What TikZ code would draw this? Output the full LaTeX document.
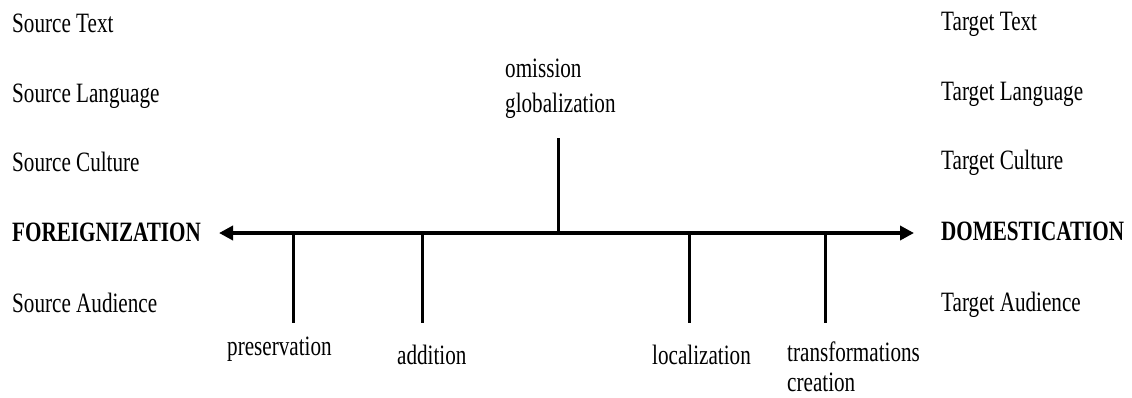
\documentclass[tikz,border=0pt]{standalone}
\usepackage{fontspec}
\setmainfont[FakeStretch=0.755]{Liberation Serif}
\usetikzlibrary{arrows.meta}
\tikzset{
  lbl/.style={inner sep=0pt, anchor=base west, font=\fontsize{28}{30}\selectfont},
  blbl/.style={lbl, font=\fontsize{28}{30}\selectfont\bfseries},
  axis/.style={line width=3.6pt, {Triangle[length=14pt,width=14pt]}-{Triangle[length=14pt,width=14pt]}},
  tick/.style={line width=3pt}
}
\begin{document}
\begin{tikzpicture}[x=1pt,y=-1pt]
\useasboundingbox (0,0) rectangle (1132,397);
% left column
\node[lbl] (st) at (12,32) {Source Text};
\node[lbl] (sl) at (12,102) {Source Language};
\node[lbl] (sc) at (12,171) {Source Culture};
\node[blbl] (fo) at (12,241) {FOREIGNIZATION};
\node[lbl] (sa) at (12,312) {Source Audience};
% right column
\node[lbl] (tt) at (941,30) {Target Text};
\node[lbl] (tl) at (941,100) {Target Language};
\node[lbl] (tc) at (941,169) {Target Culture};
\node[blbl] (do) at (941,240) {DOMESTICATION};
\node[lbl] (ta) at (941,311) {Target Audience};
% axis
\coordinate (axl) at (219,233);
\coordinate (axr) at (914,233);
\draw[axis] (axl) -- (axr);
% ticks
\coordinate (a0) at (558,233);
\coordinate (t0) at (558,138);
\coordinate (a1) at (293,233);
\coordinate (t1) at (293,323);
\coordinate (a2) at (422,233);
\coordinate (t2) at (422,323);
\coordinate (a3) at (689,233);
\coordinate (t3) at (689,323);
\coordinate (a4) at (825,233);
\coordinate (t4) at (825,323);
\draw[tick] (a0) -- (t0);
\draw[tick] (a1) -- (t1);
\draw[tick] (a2) -- (t2);
\draw[tick] (a3) -- (t3);
\draw[tick] (a4) -- (t4);
% tick labels
\node[lbl] (om) at (505,77) {omission};
\node[lbl] (gl) at (505,112) {globalization};
\node[lbl] (pr) at (227,355) {preservation};
\node[lbl] (ad) at (397,364) {addition};
\node[lbl] (lo) at (652,364) {localization};
\node[lbl] (tr) at (787,361) {transformations};
\node[lbl] (cr) at (787,391) {creation};
\end{tikzpicture}
\end{document}
